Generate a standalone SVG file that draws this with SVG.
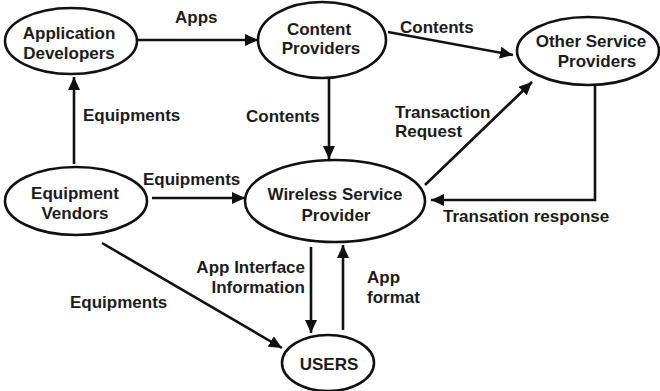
<svg xmlns="http://www.w3.org/2000/svg" width="660" height="391" viewBox="0 0 660 391">
  <style>
    .node ellipse { fill: #ffffff; stroke: #111111; stroke-width: 2.6; }
    text { font-family: "Liberation Sans", Arial, sans-serif; font-weight: bold; font-size: 17px; fill: #1c1c1c; }
    .c { text-anchor: middle; }
    .r { text-anchor: end; }
    .edge { fill: none; stroke: #111111; stroke-width: 2.6; marker-end: url(#arrow); }
  </style>
  <defs>
    <marker id="arrow" markerUnits="userSpaceOnUse" markerWidth="14" markerHeight="12" refX="13" refY="6" orient="auto">
      <path d="M0,0 L13,6 L0,12 Z" fill="#111111"/>
    </marker>
  </defs>
  <rect width="660" height="391" fill="#ffffff"/>

  <g id="connectors">
    <line class="edge" x1="138" y1="40" x2="258" y2="40"/>
    <line class="edge" x1="388" y1="32" x2="513" y2="55"/>
    <line class="edge" x1="329" y1="78" x2="329" y2="159"/>
    <line class="edge" x1="74" y1="164" x2="74" y2="77"/>
    <line class="edge" x1="152" y1="198" x2="245" y2="198"/>
    <line class="edge" x1="425" y1="185" x2="532" y2="82"/>
    <path class="edge" d="M595,86 V200 H431"/>
    <line class="edge" x1="311" y1="247" x2="311" y2="333"/>
    <line class="edge" x1="343" y1="330" x2="343" y2="245"/>
    <line class="edge" x1="102" y1="243" x2="282" y2="348"/>
  </g>

  <g id="connector-labels">
    <text x="175" y="23">Apps</text>
    <text x="400" y="33">Contents</text>
    <text x="246" y="122">Contents</text>
    <text x="83" y="121">Equipments</text>
    <text x="143" y="185">Equipments</text>
    <text x="395" y="118">Transaction</text>
    <text x="395" y="137">Request</text>
    <text x="443" y="222">Transation response</text>
    <text class="r" x="305" y="273">App Interface</text>
    <text class="r" x="305" y="293">Information</text>
    <text x="367" y="283">App</text>
    <text x="367" y="303">format</text>
    <text x="70" y="308">Equipments</text>
  </g>

  <g id="application-developers" class="node">
    <ellipse cx="71" cy="41" rx="66" ry="33"/>
    <text class="c" x="69" y="39">Application</text>
    <text class="c" x="69" y="59">Developers</text>
  </g>

  <g id="content-providers" class="node">
    <ellipse cx="322" cy="40" rx="64" ry="38"/>
    <text class="c" x="319" y="35">Content</text>
    <text class="c" x="321" y="54">Providers</text>
  </g>

  <g id="other-service-providers" class="node">
    <ellipse cx="588" cy="51" rx="71" ry="34"/>
    <text class="c" x="591" y="47">Other Service</text>
    <text class="c" x="597" y="67">Providers</text>
  </g>

  <g id="equipment-vendors" class="node">
    <ellipse cx="76" cy="201" rx="71" ry="34"/>
    <text class="c" x="75" y="199">Equipment</text>
    <text class="c" x="75" y="219">Vendors</text>
  </g>

  <g id="wireless-service-provider" class="node">
    <ellipse cx="335" cy="201" rx="90" ry="41"/>
    <text class="c" x="335" y="200">Wireless Service</text>
    <text class="c" x="336" y="221">Provider</text>
  </g>

  <g id="users" class="node">
    <ellipse cx="328" cy="363" rx="46" ry="28"/>
    <text class="c" x="329" y="370">USERS</text>
  </g>
</svg>
